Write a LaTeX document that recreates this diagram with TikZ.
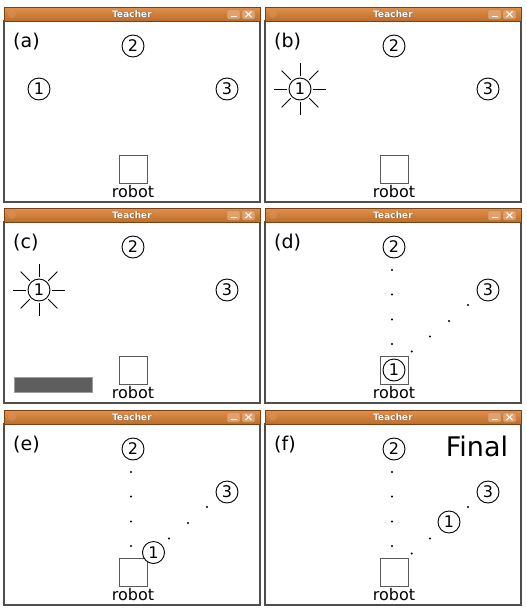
\documentclass[tikz,border=0pt]{standalone}
\usepackage{fontspec}
\setmainfont{DejaVu Sans}
\definecolor{titleor}{HTML}{D07A32}
\definecolor{titletop}{HTML}{E3904A}
\definecolor{titledark}{HTML}{7A4213}
\definecolor{btnor}{HTML}{E2A06A}
\definecolor{framegray}{HTML}{4E4E4E}
\definecolor{boxgray}{HTML}{5A5A5A}
\definecolor{bargray}{HTML}{5E5E5E}
\tikzset{
  win/.style={draw=framegray, line width=1.2pt, fill=white},
  titlebar/.style={top color=titletop, bottom color=titleor!90!black, draw=titledark, line width=0.6pt},
  btn/.style={fill=btnor, draw=titledark!70, line width=0.4pt, rounded corners=1.2pt},
  num/.style={circle, draw, line width=0.9pt, minimum size=22pt, inner sep=0pt, font=\fontsize{16}{16}\selectfont},
  robotbox/.style={draw=boxgray, line width=1pt, minimum size=28pt, inner sep=0pt},
  dotmark/.style={circle, fill=black, minimum size=2.3pt, inner sep=0pt},
  lbl/.style={font=\fontsize{19}{19}\selectfont, anchor=west, inner sep=0pt},
  robotlbl/.style={font=\fontsize{16}{16}\selectfont, anchor=base, inner sep=0pt},
  ray/.style={line width=0.9pt},
}
\newcommand\teacherwin[4]{% x, y, label, prefix
  \begin{scope}[shift={(#1,#2)}]
    \draw[win] (0,14) rectangle (256,195);
    \shade[titlebar] (0,0) rectangle (256,14);
    \fill[titleor!80!white, opacity=0.5] (8,7) circle (4);
    \node[text=black!70, font=\bfseries\fontsize{9}{9}\selectfont] at (128.6,7.6) {Teacher};
    \node[text=white, font=\bfseries\fontsize{9}{9}\selectfont] (#4-title) at (128,7) {Teacher};
    \draw[btn] (223,2.5) rectangle (236,12);
    \draw[btn] (238,2.5) rectangle (251,12);
    \draw[white, line width=1.2pt] (226.5,9.5) -- (232.5,9.5);
    \draw[white, line width=1.1pt] (241.5,4.5) -- (247.5,10) (247.5,4.5) -- (241.5,10);
    \node[lbl] (#4-lbl) at (9,35) {(#3)};
    \node[num] (#4-c2) at (129,39) {2};
    \node[num] (#4-c3) at (223,82) {3};
    \node[robotbox] (#4-robot) at (129,162) {};
    \node[robotlbl] (#4-rtxt) at (129,190) {robot};
  \end{scope}}
\newcommand\dotsvert{%
  \foreach \yy in {62,86.5,111.5,136} \node[dotmark] at (127,\yy) {};}
\begin{document}
\begin{tikzpicture}[x=1pt,y=-1pt]
  \useasboundingbox[fill=white] (0,0) rectangle (527,611);
  % (a)
  \teacherwin{4}{7}{a}{A}
  \begin{scope}[shift={(4,7)}]
    \node[num] (A-c1) at (35,82) {1};
  \end{scope}
  % (b)
  \teacherwin{265}{7}{b}{B}
  \begin{scope}[shift={(265,7)}]
    \node[num] (B-c1) at (35,82) {1};
    \foreach \a in {0,45,...,315}
      \draw[ray] ([shift={(\a:13)}]B-c1.center) -- ([shift={(\a:26)}]B-c1.center);
  \end{scope}
  % (c)
  \teacherwin{4}{208}{c}{C}
  \begin{scope}[shift={(4,208)}]
    \node[num] (C-c1) at (35,82) {1};
    \foreach \a in {0,45,...,315}
      \draw[ray] ([shift={(\a:13)}]C-c1.center) -- ([shift={(\a:26)}]C-c1.center);
    \draw[fill=bargray, draw=bargray!60!white, line width=0.5pt] (10,169) rectangle (88,184);
  \end{scope}
  % (d)
  \teacherwin{265}{208}{d}{D}
  \begin{scope}[shift={(265,208)}]
    \dotsvert
    \foreach \p in {(146.7,143.5),(165,128.5),(184,113),(203,97)} \node[dotmark] at \p {};
    \node[num] (D-c1) at (D-robot.center) {1};
  \end{scope}
  % (e)
  \teacherwin{4}{410}{e}{E}
  \begin{scope}[shift={(4,410)}]
    \dotsvert
    \foreach \p in {(165,128.5),(184,113),(203,97)} \node[dotmark] at \p {};
    \node[num, fill=white] (E-c1) at (149.5,142.5) {1};
  \end{scope}
  % (f)
  \teacherwin{265}{410}{f}{F}
  \begin{scope}[shift={(265,410)}]
    \dotsvert
    \foreach \p in {(146.7,143.5),(165,128.5),(203,97)} \node[dotmark] at \p {};
    \node[num] (F-c1) at (184,112) {1};
    \node[font=\fontsize{27}{27}\selectfont, inner sep=0pt] (F-final) at (212,36) {Final};
  \end{scope}
\end{tikzpicture}
\end{document}
